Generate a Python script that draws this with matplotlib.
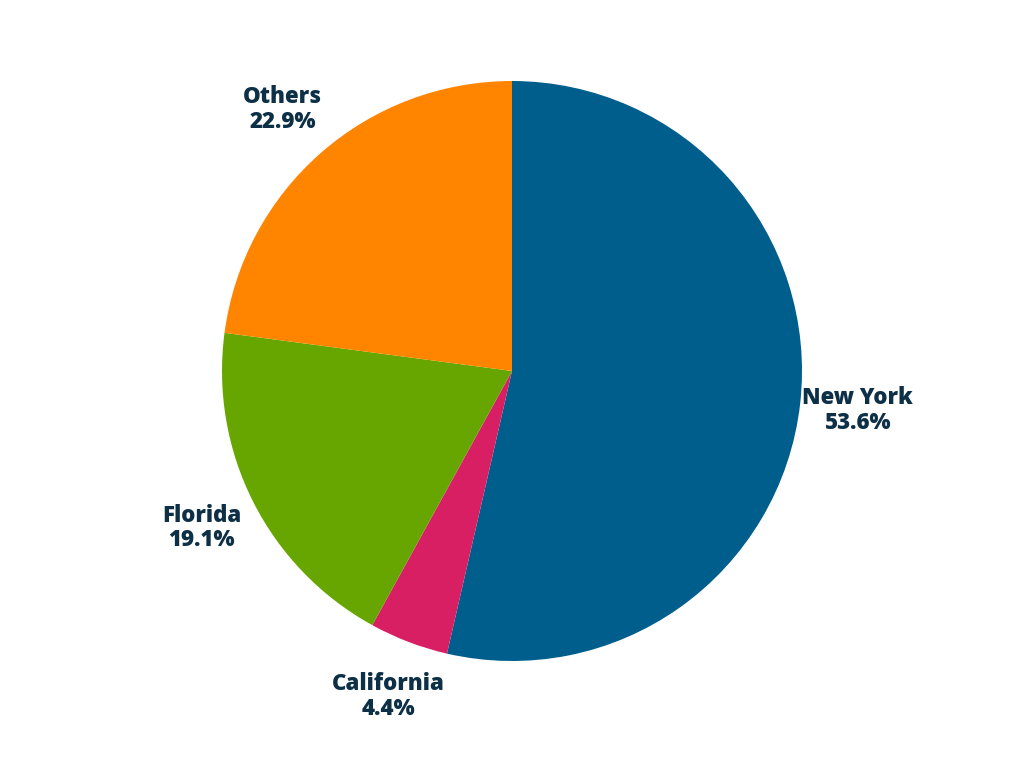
import matplotlib.pyplot as plt

states = ['New York', 'California', 'Florida', 'Others']
shares = [53.6, 4.4, 19.1, 22.9]
colors = ['#005e8c', '#d81f63', '#67a600', '#ff8500']

plt.rcParams['font.family'] = ['Open Sans', 'DejaVu Sans']

fig = plt.figure(figsize=(10.24, 7.68), dpi=100)
ax = fig.add_axes([0, 0, 1, 1])

labels = [f'{s}\n{v:.1f}%' for s, v in zip(states, shares)]
wedges, texts = ax.pie(shares, labels=labels, colors=colors, startangle=90,
                       counterclock=False, labeldistance=1.2,
                       textprops=dict(fontsize=16, fontweight='heavy',
                                      color='#0d3047', ha='center',
                                      linespacing=1.05))
for t in texts:
    t.set_ha('center')

r = 290.0
ax.set_xlim(-512 / r, 512 / r)
ax.set_ylim(-(768 - 371) / r, 371 / r)
ax.set_aspect('equal')
ax.axis('off')

fig.savefig('out.png', dpi=100)
